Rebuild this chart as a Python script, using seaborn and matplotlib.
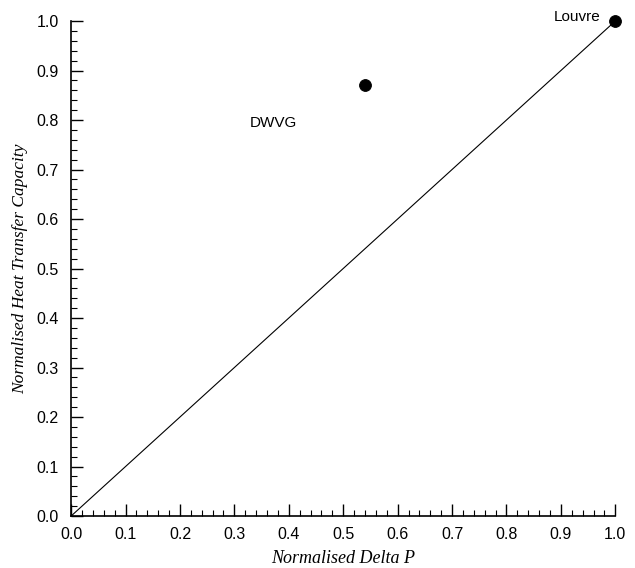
import numpy as np
import pandas as pd
import seaborn as sns
import matplotlib.pyplot as plt
from matplotlib.ticker import MultipleLocator

# Data
names = ['DWVG', 'Louvre']
delta_p = [0.54, 1.0]
heat_cap = [0.87, 1.0]
label_x = [0.329, 0.886]
label_y = [0.794, 1.008]
diag = [0.0, 1.0]

df = pd.DataFrame({'Delta P': delta_p, 'Heat': heat_cap, 'Name': names})

sns.set_style('ticks')
plt.rcParams['font.family'] = ['Liberation Sans', 'DejaVu Sans']
plt.rcParams['text.color'] = 'black'
plt.rcParams['axes.labelcolor'] = 'black'
plt.rcParams['xtick.color'] = 'black'
plt.rcParams['ytick.color'] = 'black'

fig = plt.figure(figsize=(6.35, 5.68), dpi=100)
ax = fig.add_axes([0.112, 0.0915, 0.857, 0.8715])

sns.lineplot(x=diag, y=diag, color='black', linewidth=0.8, ax=ax)
sns.scatterplot(data=df, x='Delta P', y='Heat', color='black', s=72,
                edgecolor='black', ax=ax, clip_on=False, zorder=5)

for n, lx, ly in zip(names, label_x, label_y):
    ax.text(lx, ly, n, fontsize=11, ha='left', va='center', color='black')

ax.set_xlim(0, 1)
ax.set_ylim(0, 1)
ax.xaxis.set_major_locator(MultipleLocator(0.1))
ax.yaxis.set_major_locator(MultipleLocator(0.1))
ax.xaxis.set_minor_locator(MultipleLocator(0.02))
ax.yaxis.set_minor_locator(MultipleLocator(0.02))
ax.xaxis.set_major_formatter(plt.FormatStrFormatter('%.1f'))
ax.yaxis.set_major_formatter(plt.FormatStrFormatter('%.1f'))
ax.tick_params(which='major', direction='in', length=8.5, width=1, labelsize=11.5,
               color='black', labelcolor='black')
ax.tick_params(which='minor', direction='in', length=4.5, width=0.8, color='black')
ax.tick_params(axis='x', which='major', pad=8)
ax.tick_params(axis='y', which='major', pad=9)
for s in ['top', 'right']:
    ax.spines[s].set_visible(False)
for s in ['left', 'bottom']:
    ax.spines[s].set_linewidth(1.2)
    ax.spines[s].set_color('black')

ax.set_xlabel('Normalised Delta P', fontsize=13, style='italic', color='black',
              family=['Liberation Serif', 'DejaVu Serif'], labelpad=6)
ax.set_ylabel('Normalised Heat Transfer Capacity', fontsize=12.5, style='italic', color='black',
              family=['Liberation Serif', 'DejaVu Serif'], labelpad=6)

plt.savefig('out.png', dpi=100)
